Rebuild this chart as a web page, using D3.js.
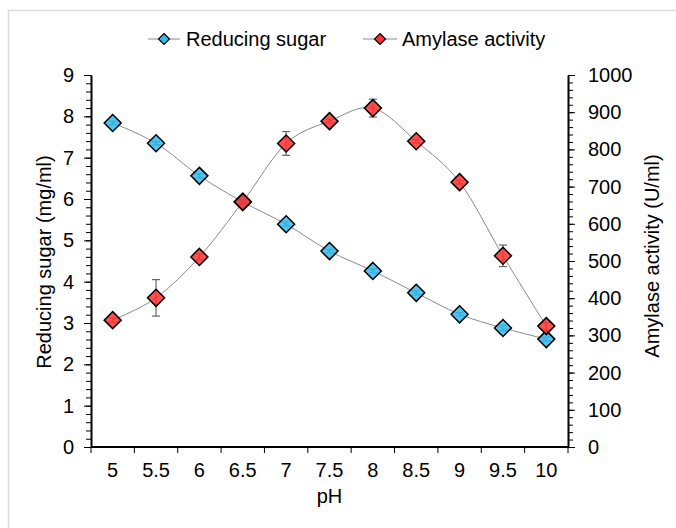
<!DOCTYPE html>
<meta charset="utf-8">

<head>
  <title>ph-sugar-amylase</title>
</head>

<style>
  body {
    margin: 0;
    background: #fff;
  }

  text {
    font-family: "Liberation Sans", Arial, sans-serif;
    fill: #000;
  }

  .axis path,
  .axis line {
    stroke: #000;
  }
</style>

<body>
  <svg width="676" height="528"></svg>

  <script src="https://cdnjs.cloudflare.com/ajax/libs/d3/7.8.5/d3.min.js"></script>
  <script>
    var ph = ['5', '5.5', '6', '6.5', '7', '7.5', '8', '8.5', '9', '9.5', '10']
    var sugar = [7.84, 7.35, 6.56, 5.93, 5.39, 4.74, 4.26, 3.73, 3.21, 2.88, 2.61]
    var sugarErr = [0.04, 0.04, 0.05, 0.04, 0.05, 0.04, 0.05, 0.05, 0.04, 0.06, 0.05]
    var amylase = [341, 401, 511, 659, 816, 876, 911, 822, 712, 514, 325]
    var amylaseErr = [6, 49, 8, 6, 32, 5, 24, 5, 5, 29, 10]
    var leftTicks = d3.range(0, 10, 1)
    var rightTicks = d3.range(0, 1100, 100)

    var svg = d3.select('svg')
    var fs = '20px'

    // light frame round the figure
    svg.append('rect')
      .attr('x', 8.5).attr('y', 10.5)
      .attr('width', 700).attr('height', 600)
      .attr('fill', 'none')
      .attr('stroke', '#dcdcdc')
      .attr('stroke-width', 1.5)

    var pLeft = 91, pRight = 568, pTop = 75, pBottom = 447

    var x = d3.scaleBand().domain(ph).range([pLeft, pRight])
    var yL = d3.scaleLinear().domain([0, 9]).range([pBottom, pTop])
    var yR = d3.scaleLinear().domain([0, 1000]).range([pBottom, pTop])

    // minor ticks
    svg.append('g').attr('class', 'axis')
      .attr('transform', 'translate(' + pLeft + ',0)')
      .call(d3.axisLeft(yL).tickValues(d3.range(0, 9.01, 0.2)).tickSize(5).tickFormat(''))
    svg.append('g').attr('class', 'axis')
      .attr('transform', 'translate(' + pRight + ',0)')
      .call(d3.axisRight(yR).tickValues(d3.range(0, 1001, 20)).tickSize(5).tickFormat(''))

    var gl = svg.append('g').attr('class', 'axis')
      .attr('transform', 'translate(' + pLeft + ',0)')
      .call(d3.axisLeft(yL).tickValues(leftTicks).tickSize(7).tickPadding(10).tickSizeOuter(0))
    gl.selectAll('text').style('font-size', fs)

    var gr = svg.append('g').attr('class', 'axis')
      .attr('transform', 'translate(' + pRight + ',0)')
      .call(d3.axisRight(yR).tickValues(rightTicks).tickSize(7).tickPadding(13)
        .tickSizeOuter(0).tickFormat(d3.format('d')))
    gr.selectAll('text').style('font-size', fs)

    // x axis: ticks between categories
    var gx = svg.append('g').attr('class', 'axis')
      .attr('transform', 'translate(0,' + pBottom + ')')
    gx.append('line')
      .attr('x1', pLeft).attr('x2', pRight)
      .attr('stroke', '#000').attr('stroke-width', 2)
    var bounds = ph.map(function(d) { return x(d) }).concat([pRight])
    gx.selectAll('.tk').data(bounds).enter().append('line')
      .attr('x1', function(d) { return d }).attr('x2', function(d) { return d })
      .attr('y1', 0).attr('y2', 6)
      .attr('stroke', '#000')
    gx.selectAll('.lb').data(ph).enter().append('text')
      .attr('x', function(d) { return x(d) + x.bandwidth() / 2 })
      .attr('y', 30)
      .attr('text-anchor', 'middle')
      .style('font-size', fs)
      .text(function(d) { return d })

    gl.select('.domain').attr('stroke-width', 2)
    gr.select('.domain').attr('stroke-width', 2)

    svg.append('text')
      .attr('x', x('7.5') + x.bandwidth() / 2).attr('y', 503)
      .attr('text-anchor', 'middle')
      .style('font-size', fs)
      .text('pH')

    svg.append('text')
      .attr('transform', 'translate(51,' + 262 + ') rotate(-90)')
      .attr('text-anchor', 'middle')
      .style('font-size', fs)
      .text('Reducing sugar (mg/ml)')

    svg.append('text')
      .attr('transform', 'translate(659,' + 256 + ') rotate(-90)')
      .attr('text-anchor', 'middle')
      .style('font-size', fs)
      .text('Amylase activity (U/ml)')

    function cx(i) { return x(ph[i]) + x.bandwidth() / 2 }

    var diamond = function(s) {
      return 'M0,' + (-s) + 'L' + s + ',0L0,' + s + 'L' + (-s) + ',0Z'
    }

    function series(vals, errs, y, fill) {
      var g = svg.append('g')
      var line = d3.line()
        .x(function(d, i) { return cx(i) })
        .y(function(d) { return y(d) })
        .curve(d3.curveCardinal.tension(0))
      g.append('path')
        .attr('d', line(vals))
        .attr('fill', 'none')
        .attr('stroke', '#8a8a8a')
        .attr('stroke-width', 1)

      var eb = g.selectAll('.eb').data(vals).enter().append('g')
        .attr('stroke', '#666').attr('stroke-width', 1.2)
      eb.append('line')
        .attr('x1', function(d, i) { return cx(i) }).attr('x2', function(d, i) { return cx(i) })
        .attr('y1', function(d, i) { return y(d + errs[i]) })
        .attr('y2', function(d, i) { return y(d - errs[i]) })
      eb.append('line')
        .attr('x1', function(d, i) { return cx(i) - 4 }).attr('x2', function(d, i) { return cx(i) + 4 })
        .attr('y1', function(d, i) { return y(d + errs[i]) })
        .attr('y2', function(d, i) { return y(d + errs[i]) })
      eb.append('line')
        .attr('x1', function(d, i) { return cx(i) - 4 }).attr('x2', function(d, i) { return cx(i) + 4 })
        .attr('y1', function(d, i) { return y(d - errs[i]) })
        .attr('y2', function(d, i) { return y(d - errs[i]) })

      g.selectAll('.mk').data(vals).enter().append('path')
        .attr('d', diamond(8.5))
        .attr('transform', function(d, i) { return 'translate(' + cx(i) + ',' + y(d) + ')' })
        .attr('fill', fill)
        .attr('fill-opacity', 0.85)
        .attr('stroke', '#000')
        .attr('stroke-width', 1.5)
    }

    series(sugar, sugarErr, yL, '#33bbee')
    series(amylase, amylaseErr, yR, '#ff3030')

    // legend
    var legend = [
      { name: 'Reducing sugar', fill: '#33bbee', x0: 148, x1: 180, tx: 186 },
      { name: 'Amylase activity', fill: '#ff3030', x0: 363, x1: 397, tx: 402 }
    ]
    var lg = svg.selectAll('.lg').data(legend).enter().append('g')
    lg.append('line')
      .attr('x1', function(d) { return d.x0 }).attr('x2', function(d) { return d.x1 })
      .attr('y1', 39).attr('y2', 39)
      .attr('stroke', '#8a8a8a')
    lg.append('path')
      .attr('d', diamond(5.5))
      .attr('transform', function(d) { return 'translate(' + (d.x0 + d.x1) / 2 + ',39)' })
      .attr('fill', function(d) { return d.fill })
      .attr('stroke', '#000')
      .attr('stroke-width', 1.2)
    lg.append('text')
      .attr('x', function(d) { return d.tx }).attr('y', 46)
      .style('font-size', fs)
      .text(function(d) { return d.name })
  </script>
</body>

</html>
